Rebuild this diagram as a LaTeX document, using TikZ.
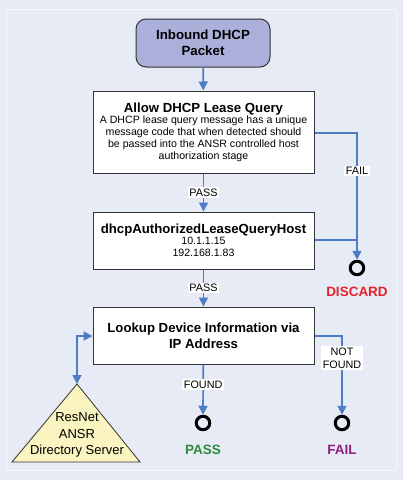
\documentclass[tikz,border=0pt]{standalone}
\usepackage{fontspec}
\setmainfont{Liberation Sans}
\usetikzlibrary{arrows.meta}
\definecolor{bgc}{HTML}{E6EBF5}
\definecolor{panel}{HTML}{F6F8FC}
\definecolor{flow}{HTML}{4E7CC6}
\definecolor{startc}{HTML}{AAB0DA}
\definecolor{boxline}{HTML}{333333}
\definecolor{discardc}{HTML}{E52228}
\definecolor{passc}{HTML}{2E8A3C}
\definecolor{failc}{HTML}{8E1F7C}
\definecolor{trifill}{HTML}{FAF4C0}
\tikzset{
  startbox/.style={draw=boxline, line width=1pt, fill=startc, rounded corners=10pt,
    minimum width=134pt, minimum height=48pt, align=center,
    font=\fontsize{13.3}{16}\selectfont\bfseries, inner sep=0pt},
  procbox/.style={draw=boxline, line width=1pt, fill=white, minimum width=221pt,
    align=center, inner sep=0pt},
  flowline/.style={draw=flow, line width=1.7pt},
  tip/.tip={Triangle[width=9pt,length=9pt]},
  flowarrow/.style={flowline, -tip},
  lbl/.style={fill=white, inner sep=1.5pt, align=center,
    font=\fontsize{10.8}{13}\selectfont},
  endpt/.style={circle, draw=black, line width=3pt, minimum size=13.5pt, inner sep=0pt},
  endlbl/.style={font=\fontsize{13.5}{15}\selectfont\bfseries},
  x=1pt, y=-1pt
}
\newcommand{\ttl}{\fontsize{13.2}{14}\selectfont\bfseries}
\newcommand{\bdy}{\fontsize{10.6}{13}\selectfont\mdseries}
\begin{document}
\begin{tikzpicture}
\fill[bgc] (0,0) rectangle (403,480);
\useasboundingbox (0,0) rectangle (403,480);
\draw[panel, line width=0.8pt] (6,9) rectangle (396,470);

\node[startbox] (start) at (203,43) {Inbound DHCP\\Packet};

\node[procbox, minimum height=82pt] (allow) at (203.5,132)
  {\ttl Allow DHCP Lease Query\\[-1pt]
   \bdy A DHCP lease query message has a unique\\
   \bdy message code that when detected should\\
   \bdy be passed into the ANSR controlled host\\
   \bdy authorization stage};

\node[procbox, minimum height=57pt] (auth) at (203.5,240.5)
  {\ttl dhcpAuthorizedLeaseQueryHost\\[-1pt]
   \bdy 10.1.1.15\\
   \bdy 192.168.1.83};

\node[procbox, minimum height=57pt, font=\fontsize{13.2}{16}\selectfont\bfseries]
  (lookup) at (203.5,335.5) {Lookup Device Information via\\IP Address};

\node[endpt] (discard) at (357,268) {};
\node[endlbl, text=discardc] (discardlbl) at (357,292) {DISCARD};
\node[endpt] (passend) at (203,423) {};
\node[endlbl, text=passc] (passlbl) at (203,450) {PASS};
\node[endpt] (failend) at (342,423) {};
\node[endlbl, text=failc] (faillbl) at (342,450) {FAIL};

% directory server triangle
\coordinate (srvtop) at (77,384);
\coordinate (srvr) at (140,462);
\coordinate (srvl) at (12,462);
\draw[boxline, line width=0.8pt, fill=trifill] (srvtop) -- (srvr) -- (srvl) -- cycle;
\node[align=center, font=\fontsize{13}{16.5}\selectfont] (srv) at (77,435)
  {ResNet\\ANSR\\Directory Server};

% connectors
\draw[flowarrow] (start) -- (allow);
\draw[flowarrow] (allow) -- node[lbl, pos=0.5] (pass1) {PASS} (auth);
\draw[flowarrow] (auth) -- node[lbl, pos=0.5] (pass2) {PASS} (lookup);
\coordinate (failcorner) at (357,133);
\draw[flowarrow] (allow.east |- failcorner) -- (failcorner)
  -- node[lbl, pos=0.3] (faillab) {FAIL} (discard.north);
\draw[flowline] (auth.east |- 0,240) -- (357,240);
\draw[flowarrow] (lookup) -- node[lbl, pos=0.4] (foundlab) {FOUND} (passend.north);
\coordinate (nfcorner) at (342,336);
\draw[flowarrow] (lookup.east |- nfcorner) -- (nfcorner)
  -- node[lbl, pos=0.28] (nflab) {NOT\\FOUND} (failend.north);
\draw[flowline, tip-tip] (srvtop) |- (lookup.west |- 0,336);
\end{tikzpicture}
\end{document}
